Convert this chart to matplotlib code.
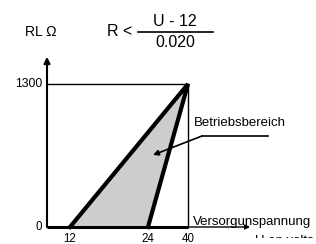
import numpy as np
import matplotlib
matplotlib.use("Agg")
from matplotlib import pyplot as plt
from matplotlib.transforms import Bbox

plt.rcParams['font.family'] = ['Liberation Sans', 'DejaVu Sans']

# --- data ---
volt_ticks = [12, 24, 40]
volt_labels = ["12", "24", "40"]
r_ticks = [0, 1300]
r_labels = ["0", "1300"]
region_u = [12, 40, 24]      # Betriebsbereich corners (U)
region_r = [0, 1300, 0]      # Betriebsbereich corners (R)
u_max, r_max = 40, 1300

# schematic (non linear) voltage axis of the original drawing
U_KNOTS = [0, 12, 24, 40]
PX_KNOTS = [0, 23, 101, 141]
fwd = lambda v: np.interp(v, U_KNOTS, PX_KNOTS)
inv = lambda p: np.interp(p, PX_KNOTS, U_KNOTS)

W, H = 316, 244
fig = plt.figure(figsize=(W / 100, H / 100), dpi=100)
ax = fig.add_axes([47 / W, (H - 227) / H, 141 / W, 143 / H])
ax.set_xscale('function', functions=(fwd, inv))
ax.set_xlim(0, u_max)
ax.set_ylim(0, r_max)
for s in ax.spines.values():
    s.set_visible(False)
ax.set_xticks([]); ax.set_yticks([])

def px(x, y):
    return x / W, 1 - y / H

# frame lines
ax.plot([0, u_max], [r_max, r_max], color='black', lw=1.0, clip_on=False)
ax.plot([u_max, u_max], [0, r_max], color='black', lw=1.0, clip_on=False)
# operating region
ax.fill(region_u, region_r, color='#cdcdcd', lw=0)
ax.plot(region_u, region_r, color='black', lw=3.0, solid_joinstyle='miter', clip_on=False)
# axes
ax.plot([0, u_max], [0, 0], color='black', lw=2.2, clip_on=False, solid_capstyle='butt')
ax.annotate('', xy=(0, 1.19), xytext=(0, 0), xycoords='axes fraction',
            arrowprops=dict(arrowstyle='-|>', color='black', lw=1.5,
                            mutation_scale=9, shrinkA=0, shrinkB=0))
ax.annotate('', xy=(1.44, 0), xytext=(1.0, 0), xycoords='axes fraction',
            arrowprops=dict(arrowstyle='-|>', color='black', lw=1.0,
                            mutation_scale=7, shrinkA=0, shrinkB=0))

# tick labels
for v, lab in zip(volt_ticks, volt_labels):
    ax.text(v, -112, lab, ha='center', va='center', fontsize=8.3)
fig.text(*px(39, 227.5), r_labels[0], ha='center', va='center', fontsize=8.3)
fig.text(*px(42, 84), r_labels[1], ha='right', va='center', fontsize=8.8)

# titles / formula
fig.text(*px(41, 32), 'RL Ω', ha='center', va='center', fontsize=10)
fig.text(*px(120, 31.5), 'R <', ha='center', va='center', fontsize=11.5)
fig.text(*px(175, 21.5), 'U - 12', ha='center', va='center', fontsize=11.5)
fig.text(*px(175, 42.5), '0.020', ha='center', va='center', fontsize=11.5)
fig.add_artist(plt.Line2D([138 / W, 213 / W], [1 - 32.3 / H] * 2, color='black', lw=1.2))

# labels
fig.text(*px(194, 123), 'Betriebsbereich', ha='left', va='center', fontsize=9.5)
fig.text(*px(193, 225), 'Versorgunspannung', ha='left', va='baseline', fontsize=9.5)
# the original drawing is cropped through this label
cut = fig.text(*px(255, 234.5), 'U en volts', ha='left', va='top', fontsize=9.5)
cut.set_clip_box(Bbox.from_extents(0, H - 237.5, W, H))
cut.set_clip_on(True)

# pointer
fig.add_artist(plt.Line2D([268 / W, 202 / W], [1 - 136 / H] * 2, color='black', lw=1.2))
ax.annotate('', xy=px(153, 155), xytext=px(202, 136), xycoords='figure fraction',
            arrowprops=dict(arrowstyle='-|>', color='black', lw=1.2,
                            mutation_scale=8, shrinkA=0, shrinkB=0))

fig.savefig('out.png', dpi=100)
